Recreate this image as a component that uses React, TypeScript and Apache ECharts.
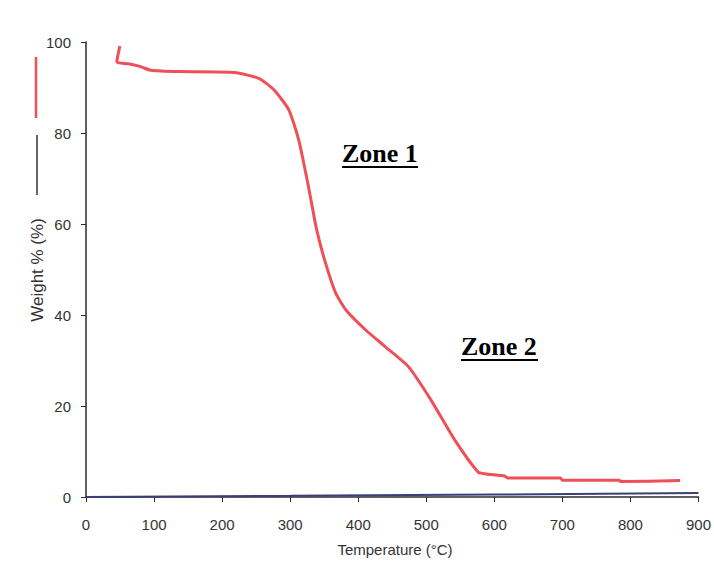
import React, { useEffect, useRef } from "react";
import * as echarts from "echarts";

// Weight loss curve (TGA)
const temperature = [49.7, 45.3, 62, 80, 95, 137, 218, 254, 276, 298, 313, 327, 339, 352, 367, 382, 411, 440, 474, 507, 542, 576, 586, 615, 620, 697, 700, 784, 785, 873];
const weight = [99.1, 95.6, 95.2, 94.6, 93.8, 93.5, 93.3, 92.0, 89.5, 85.1, 78.2, 68.1, 58.7, 51.4, 44.8, 41.1, 36.7, 33.0, 28.6, 21.3, 12.5, 5.5, 5.1, 4.6, 4.2, 4.2, 3.7, 3.7, 3.4, 3.6];

// Second (dark) trace lying on the baseline
const baseTemperature = [0, 300, 600, 900];
const baseValue = [0, 0.25, 0.55, 0.9];

const xTicks = [0, 900, 100];
const yTicks = [0, 100, 20];

const zoneLabels = ["Zone 1", "Zone 2"];

const tickFont = "'Liberation Sans', Arial, sans-serif";

export default function App() {
  const ref = useRef<HTMLDivElement>(null);
  useEffect(() => {
    if (!ref.current) return;
    const chart = echarts.init(ref.current, null, { renderer: "svg" });
    const weightData = temperature.map((t, i) => [t, weight[i]]);
    const baseData = baseTemperature.map((t, i) => [t, baseValue[i]]);
    chart.setOption({
      animation: false,
      backgroundColor: "#ffffff",
      grid: { left: 86, top: 42, right: 12, bottom: 64, containLabel: false },
      xAxis: {
        type: "value",
        min: xTicks[0],
        max: xTicks[1],
        interval: xTicks[2],
        axisLine: { show: true, lineStyle: { color: "#2a2a35", width: 1.5 } },
        axisTick: { show: true, length: 5, inside: false, lineStyle: { color: "#2a2a35" } },
        axisLabel: { color: "#333333", fontSize: 15, fontFamily: tickFont, margin: 20 },
        splitLine: { show: false },
      },
      yAxis: {
        type: "value",
        min: yTicks[0],
        max: yTicks[1],
        interval: yTicks[2],
        axisLine: { show: true, lineStyle: { color: "#2a2a35", width: 1.5 } },
        axisTick: { show: true, length: 5, inside: false, lineStyle: { color: "#2a2a35" } },
        axisLabel: { color: "#333333", fontSize: 15, fontFamily: tickFont, margin: 15 },
        splitLine: { show: false },
      },
      series: [
        {
          type: "line",
          name: "baseline",
          data: baseData,
          showSymbol: false,
          lineStyle: { color: "#3a3f78", width: 2 },
          z: 3,
        },
        {
          type: "line",
          name: "Weight %",
          data: weightData,
          showSymbol: false,
          smooth: 0.2,
          lineStyle: { color: "#ef5057", width: 3 },
          z: 4,
        },
      ],
      graphic: [
        {
          type: "line",
          shape: { x1: 36, y1: 57, x2: 36, y2: 118 },
          style: { stroke: "#ef5057", lineWidth: 2.5 },
        },
        {
          type: "line",
          shape: { x1: 37, y1: 135, x2: 37, y2: 195 },
          style: { stroke: "#333333", lineWidth: 1.5 },
        },
        {
          type: "text",
          x: 37,
          y: 270,
          rotation: Math.PI / 2,
          style: {
            text: "Weight % (%)",
            fill: "#333333",
            font: "17px 'Liberation Sans', Arial, sans-serif",
            align: "center",
            verticalAlign: "middle",
          },
        },
        {
          type: "text",
          x: 395,
          y: 549,
          style: {
            text: "Temperature (°C)",
            fill: "#333333",
            font: "15px " + tickFont,
            align: "center",
            verticalAlign: "middle",
          },
        },
        {
          type: "text",
          x: 342,
          y: 153,
          style: {
            text: zoneLabels[0],
            fill: "#000000",
            font: "bold 26px 'Liberation Serif', 'Times New Roman', serif",
            align: "left",
            verticalAlign: "middle",
          },
        },
        {
          type: "line",
          shape: { x1: 342, y1: 167, x2: 418, y2: 167 },
          style: { stroke: "#000000", lineWidth: 2 },
        },
        {
          type: "text",
          x: 461,
          y: 346,
          style: {
            text: zoneLabels[1],
            fill: "#000000",
            font: "bold 26px 'Liberation Serif', 'Times New Roman', serif",
            align: "left",
            verticalAlign: "middle",
          },
        },
        {
          type: "line",
          shape: { x1: 461, y1: 360, x2: 538, y2: 360 },
          style: { stroke: "#000000", lineWidth: 2 },
        },
      ],
    });
    return () => chart.dispose();
  }, []);
  return <div ref={ref} style={{ width: 714, height: 561, position: "absolute", left: 0, top: 0 }} />;
}
